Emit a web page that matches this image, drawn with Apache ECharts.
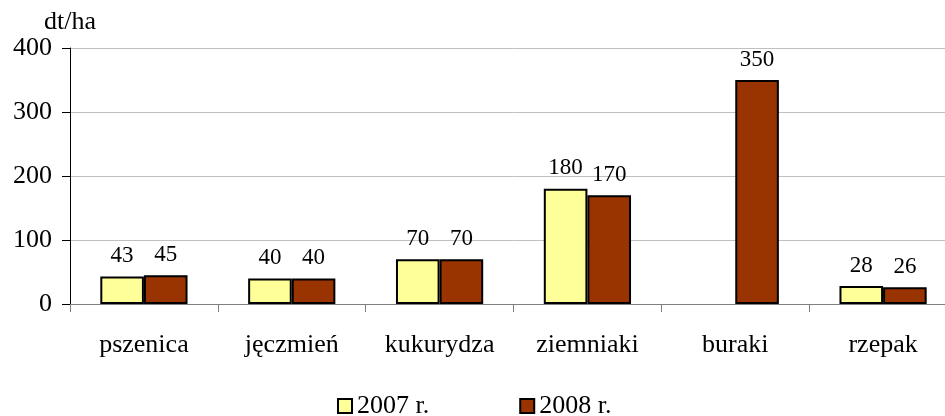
<!DOCTYPE html>
<html>
<head>
  <meta charset="utf-8">
  <title>Plony</title>
  <script src="https://cdn.jsdelivr.net/npm/echarts@6/dist/echarts.min.js"></script>
  <style>
    html, body { margin: 0; padding: 0; background: #fff; overflow: hidden; }
    /* obszar wykresu wychodzi trochę poza prawą krawędź, jak w oryginale */
    #chart { width: 957px; height: 416px; }
  </style>
</head>
<body>
  <div id="chart"></div>
  <script>
    // dane
    var categories = ['pszenica', 'jęczmień', 'kukurydza', 'ziemniaki', 'buraki', 'rzepak'];
    var yield2007 = [43, 40, 70, 180, '-', 28];
    var yield2008 = [45, 40, 70, 170, 350, 26];
    var seriesNames = ['2007 r.', '2008 r.'];

    var font = '"Liberation Serif", "Times New Roman", serif';
    var chart = echarts.init(document.getElementById('chart'));

    var labelOpt = {
      show: true,
      position: 'top',
      distance: 9,
      color: '#000',
      fontFamily: font,
      fontSize: 23
    };

    var option = {
      animation: false,
      textStyle: { fontFamily: font },
      grid: { left: 70, top: 48, right: 0, bottom: 112, containLabel: false },
      legend: {
        bottom: -8,
        left: 332,
        itemGap: 90,
        itemWidth: 14,
        itemHeight: 14,
        icon: 'rect',
        textStyle: { fontFamily: font, fontSize: 26, color: '#000', padding: [2, 0, 0, 0] },
        data: seriesNames
      },
      xAxis: {
        type: 'category',
        data: categories,
        axisLine: { lineStyle: { color: '#808080', width: 1 } },
        axisTick: { show: true, length: 8, lineStyle: { color: '#808080' } },
        axisLabel: { color: '#000', fontFamily: font, fontSize: 26, margin: 28 }
      },
      yAxis: {
        type: 'value',
        min: 0,
        max: 400,
        interval: 100,
        name: 'dt/ha',
        nameGap: 13,
        nameTextStyle: { color: '#000', fontFamily: font, fontSize: 26 },
        axisLine: { show: true, lineStyle: { color: '#000', width: 1 } },
        axisTick: { show: true, length: 8, lineStyle: { color: '#000' } },
        axisLabel: { color: '#000', fontFamily: font, fontSize: 26, margin: 18 },
        splitLine: { lineStyle: { color: '#c0c0c0', width: 1 } }
      },
      series: [
        {
          name: seriesNames[0],
          type: 'bar',
          data: yield2007,
          barGap: '0%',
          barCategoryGap: '41%',
          itemStyle: { color: '#FFFF99', borderColor: '#000', borderWidth: 2 },
          label: labelOpt
        },
        {
          name: seriesNames[1],
          type: 'bar',
          data: yield2008,
          itemStyle: { color: '#993300', borderColor: '#000', borderWidth: 2 },
          label: labelOpt
        }
      ]
    };

    chart.setOption(option);
  </script>
</body>
</html>
